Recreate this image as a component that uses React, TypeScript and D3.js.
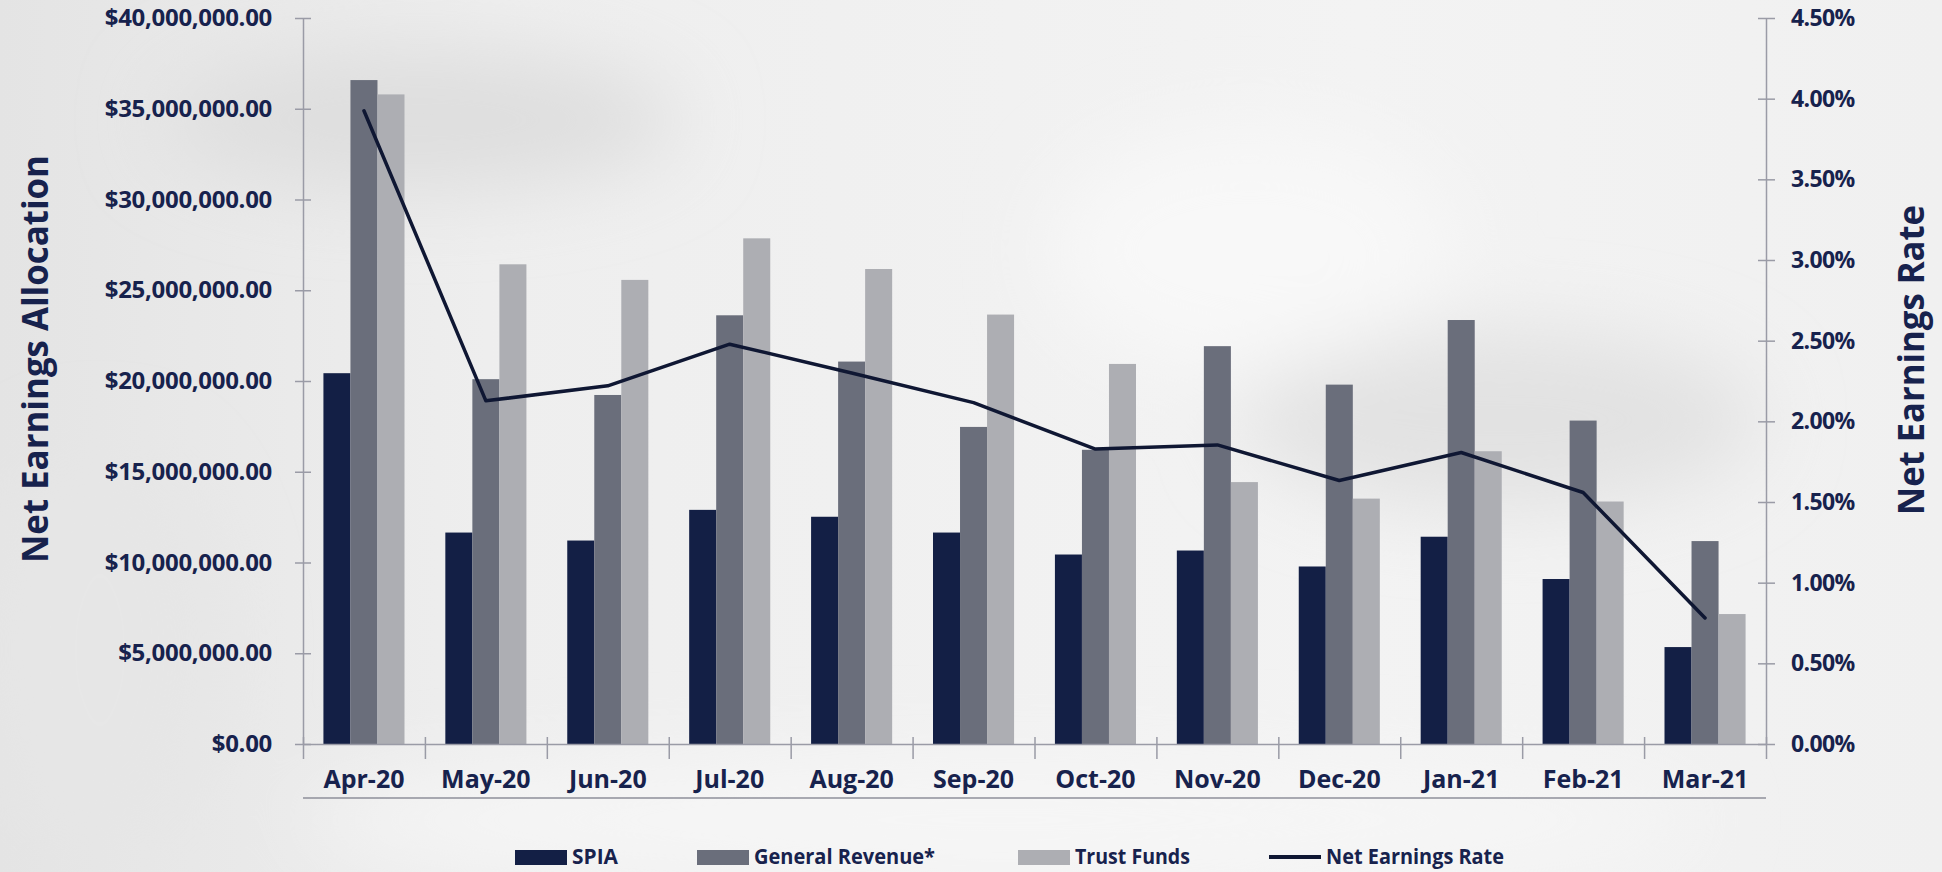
import React, { useRef, useEffect } from 'react';
import * as d3 from 'd3';

// monthly net earnings allocation (dollars) and rate (fraction)
const months = ['Apr-20', 'May-20', 'Jun-20', 'Jul-20', 'Aug-20', 'Sep-20', 'Oct-20', 'Nov-20', 'Dec-20', 'Jan-21', 'Feb-21', 'Mar-21'];
const spia = [20430000, 11650000, 11210000, 12900000, 12520000, 11650000, 10440000, 10660000, 9780000, 11420000, 9090000, 5340000];
const generalRevenue = [36580000, 20100000, 19230000, 23620000, 21070000, 17470000, 16210000, 21920000, 19800000, 23360000, 17820000, 11180000];
const trustFunds = [35790000, 26430000, 25570000, 27860000, 26170000, 23660000, 20940000, 14430000, 13520000, 16130000, 13360000, 7160000];
const netEarningsRate = [0.03925, 0.02127, 0.0222, 0.02478, 0.023, 0.02116, 0.01828, 0.01854, 0.01633, 0.01807, 0.01559, 0.00781];

const seriesNames = ['SPIA', 'General Revenue*', 'Trust Funds'];
const lineName = 'Net Earnings Rate';
const moneyTicks = [0, 5000000, 10000000, 15000000, 20000000, 25000000, 30000000, 35000000, 40000000];
const rateTicks = [0, 0.005, 0.01, 0.015, 0.02, 0.025, 0.03, 0.035, 0.04, 0.045];

const W = 1942;
const H = 872;
const FONT = '"Open Sans", "Noto Sans", sans-serif';
const TEXT = '#17224d';
const AXIS = '#9a9ba6';
const COLORS = ['#131f45', '#6a6e7b', '#adaeb3'];
const LINE = '#0f1733';

const App = () => {
  const ref = useRef(null);

  useEffect(() => {
    const svg = d3.select(ref.current);
    svg.selectAll('*').remove();

    const left = 303, right = 1766, top = 18, bottom = 744;

    // background
    const defs = svg.append('defs');
    const grad = defs.append('linearGradient').attr('id', 'bg').attr('x1', 0).attr('x2', 1).attr('y1', 0).attr('y2', 0);
    grad.append('stop').attr('offset', 0).attr('stop-color', '#e4e4e4');
    grad.append('stop').attr('offset', 0.25).attr('stop-color', '#eeeeee');
    grad.append('stop').attr('offset', 0.7).attr('stop-color', '#f3f3f3');
    grad.append('stop').attr('offset', 1).attr('stop-color', '#f0f0f0');
    const blur = defs.append('filter').attr('id', 'blur').attr('x', '-50%').attr('y', '-50%').attr('width', '200%').attr('height', '200%');
    blur.append('feGaussianBlur').attr('stdDeviation', 40);
    svg.append('rect').attr('width', W).attr('height', H).attr('fill', 'url(#bg)');
    const blobs = svg.append('g').attr('filter', 'url(#blur)');
    blobs.append('ellipse').attr('cx', 420).attr('cy', 120).attr('rx', 260).attr('ry', 70).attr('fill', '#dedede');
    blobs.append('ellipse').attr('cx', 1500).attr('cy', 420).attr('rx', 260).attr('ry', 90).attr('fill', '#e2e2e2');
    blobs.append('ellipse').attr('cx', 1250).attr('cy', 250).attr('rx', 200).attr('ry', 120).attr('fill', '#f8f8f8');
    blobs.append('ellipse').attr('cx', 100).attr('cy', 650).attr('rx', 120).attr('ry', 200).attr('fill', '#e6e6e6');
    blobs.append('ellipse').attr('cx', 1000).attr('cy', 820).attr('rx', 700).attr('ry', 60).attr('fill', '#f6f6f6');

    const x0 = d3.scaleBand().domain(months).range([left, right]).paddingInner(0.335).paddingOuter(0.1675);
    const x1 = d3.scaleBand().domain(seriesNames).range([0, x0.bandwidth()]).padding(0);
    const y = d3.scaleLinear().domain([0, 40000000]).range([bottom, top]);
    const yr = d3.scaleLinear().domain([0, 0.045]).range([bottom, top]);

    // bars
    const rows = months.map((m, i) => ({ month: m, values: [spia[i], generalRevenue[i], trustFunds[i]] }));
    const groups = svg.append('g').selectAll('g').data(rows).join('g')
      .attr('transform', d => `translate(${x0(d.month)},0)`);
    groups.selectAll('rect').data(d => d.values.map((v, k) => ({ v, k }))).join('rect')
      .attr('x', d => x1(seriesNames[d.k]))
      .attr('y', d => y(d.v))
      .attr('width', x1.bandwidth())
      .attr('height', d => y(0) - y(d.v))
      .attr('fill', d => COLORS[d.k]);

    // left axis
    const gl = svg.append('g').attr('transform', `translate(${left},0)`)
      .call(d3.axisLeft(y).tickValues(moneyTicks).tickFormat(d3.format('$,.2f')).tickSize(8).tickSizeOuter(0).tickPadding(23));
    gl.select('.domain').attr('stroke', AXIS).attr('stroke-width', 1.5);
    gl.selectAll('.tick line').attr('x1', 8).attr('stroke', AXIS).attr('stroke-width', 1.5);
    gl.selectAll('.tick text').attr('fill', TEXT).attr('font-family', FONT).attr('font-weight', 700)
      .attr('font-size', 24).attr('letter-spacing', -0.3);

    // right axis
    const gr = svg.append('g').attr('transform', `translate(${right},0)`)
      .call(d3.axisRight(yr).tickValues(rateTicks).tickFormat(d3.format('.2%')).tickSize(9).tickSizeOuter(0).tickPadding(16));
    gr.select('.domain').attr('stroke', AXIS).attr('stroke-width', 1.5);
    gr.selectAll('.tick line').attr('x1', -8).attr('stroke', AXIS).attr('stroke-width', 1.5);
    gr.selectAll('.tick text').attr('fill', TEXT).attr('font-family', FONT).attr('font-weight', 700)
      .attr('font-size', 23).attr('letter-spacing', -0.6);

    // category axis: labels at band centres, separators between bands
    const gb = svg.append('g').attr('transform', `translate(0,${bottom})`)
      .call(d3.axisBottom(x0).tickSize(0).tickPadding(26));
    gb.select('.domain').attr('stroke', AXIS).attr('stroke-width', 1.5);
    gb.selectAll('.tick text').attr('fill', TEXT).attr('font-family', FONT).attr('font-weight', 700)
      .attr('font-size', 25);
    const sep = d3.scaleLinear().domain([0, months.length]).range([left, right]);
    const gs = svg.append('g').attr('transform', `translate(0,${bottom})`)
      .call(d3.axisBottom(sep).tickValues(d3.range(months.length + 1)).tickFormat(() => '').tickSize(15).tickSizeOuter(0));
    gs.select('.domain').remove();
    gs.selectAll('.tick line').attr('y1', -7).attr('stroke', AXIS).attr('stroke-width', 1.5);
    svg.append('line').attr('x1', left).attr('x2', right).attr('y1', 798).attr('y2', 798)
      .attr('stroke', '#8e8f9a').attr('stroke-width', 1.5);

    // rate line
    const line = d3.line<number>()
      .x((_, i) => x0(months[i]) + x0.bandwidth() / 2)
      .y(d => yr(d));
    svg.append('path').datum(netEarningsRate)
      .attr('fill', 'none').attr('stroke', LINE).attr('stroke-width', 3.5)
      .attr('stroke-linejoin', 'round').attr('stroke-linecap', 'round')
      .attr('d', line);

    // axis titles
    svg.append('text').attr('transform', `translate(34,${(top + bottom) / 2 - 22}) rotate(-90)`)
      .attr('text-anchor', 'middle').attr('dominant-baseline', 'central')
      .attr('fill', TEXT).attr('font-family', FONT).attr('font-weight', 700).attr('font-size', 36)
      .attr('textLength', 408).attr('lengthAdjust', 'spacingAndGlyphs')
      .text('Net Earnings Allocation');
    svg.append('text').attr('transform', `translate(1910,${(top + bottom) / 2 - 21}) rotate(-90)`)
      .attr('text-anchor', 'middle').attr('dominant-baseline', 'central')
      .attr('fill', TEXT).attr('font-family', FONT).attr('font-weight', 700).attr('font-size', 36)
      .attr('textLength', 310).attr('lengthAdjust', 'spacingAndGlyphs')
      .text('Net Earnings Rate');

    // legend
    const legendX = [515, 697, 1018, 1269];
    const legendTextLen = [46, 181, 115, 178];
    const legendY = 857;
    const leg = svg.append('g');
    [...seriesNames, lineName].forEach((name, i) => {
      if (i < 3) {
        leg.append('rect').attr('x', legendX[i]).attr('y', legendY - 7).attr('width', 52).attr('height', 15).attr('fill', COLORS[i]);
      } else {
        leg.append('line').attr('x1', legendX[i]).attr('x2', legendX[i] + 52).attr('y1', legendY).attr('y2', legendY)
          .attr('stroke', LINE).attr('stroke-width', 4);
      }
      leg.append('text').attr('x', legendX[i] + 57).attr('y', legendY + 7)
        .attr('fill', TEXT).attr('font-family', FONT).attr('font-weight', 700).attr('font-size', 21)
        .attr('textLength', legendTextLen[i]).attr('lengthAdjust', 'spacingAndGlyphs')
        .text(name);
    });
  }, []);

  return (
    <svg ref={ref} width={W} height={H} style={{ position: 'absolute', left: 0, top: 0, display: 'block' }} />
  );
};

export default App;
